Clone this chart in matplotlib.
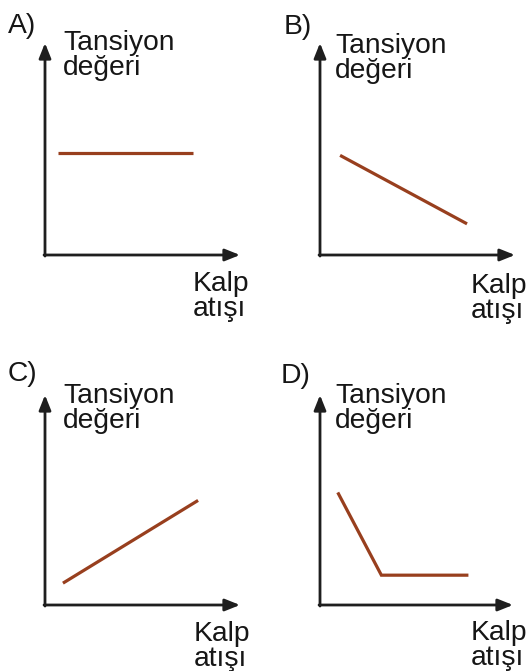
import matplotlib
matplotlib.use("Agg")
import matplotlib.pyplot as plt

plt.rcParams['font.family'] = ['Liberation Sans', 'DejaVu Sans']

W, H = 527, 671

panel_labels = ['A)', 'B)', 'C)', 'D)']
y_label_lines = ['Tansiyon', 'değeri']
x_label_lines = ['Kalp', 'atışı']

# data (axis units 0..10)
a_x = [0.67, 7.6]
a_y = [4.8, 4.8]
b_x = [1.03, 7.54]
b_y = [4.7, 1.47]
c_x = [0.92, 7.85]
c_y = [1.04, 4.98]
d_x = [0.92, 3.18, 7.69]
d_y = [5.36, 1.42, 1.42]

series = [(a_x, a_y), (b_x, b_y), (c_x, c_y), (d_x, d_y)]

# layout in pixels: (axis left x, axis top y, axis right x, axis bottom y)
boxes = [(45, 43, 240, 255), (320, 43, 515, 255), (45, 395, 240, 605), (320, 395, 513, 605)]
label_pos = [(8, 33), (284, 34), (8, 381), (281, 383)]
ylab_pos = [(63, 50), (335, 53), (63, 403), (335, 403)]
xlab_pos = [(193, 291), (471, 293), (194, 641), (471, 640)]

axis_color = '#1e1e1e'
line_color = '#983f1e'
text_color = '#161616'
fs = 20.3
lsp = 25

fig = plt.figure(figsize=(W / 100, H / 100), dpi=100)
fig.patch.set_facecolor('white')


def fx(x):
    return x / W


def fy(y):
    return 1 - y / H


for i, (l, t, r, b) in enumerate(boxes):
    ax = fig.add_axes([fx(l), fy(b), (r - l) / W, (b - t) / H])
    ax.set_xlim(0, 10)
    ax.set_ylim(0, 10)
    ax.axis('off')
    ap = dict(arrowstyle='-|>,head_length=0.5,head_width=0.2', lw=2.0,
              color=axis_color, mutation_scale=18, shrinkA=0, shrinkB=0)
    ax.annotate('', xy=(1, 0), xytext=(-0.005, 0), xycoords='axes fraction',
                textcoords='axes fraction', arrowprops=ap, annotation_clip=False)
    ax.annotate('', xy=(0, 1), xytext=(0, -0.005), xycoords='axes fraction',
                textcoords='axes fraction', arrowprops=ap, annotation_clip=False)
    xs, ys = series[i]
    ax.plot(xs, ys, color=line_color, lw=2.3, solid_capstyle='butt',
            solid_joinstyle='miter', clip_on=False)

    lx, ly = label_pos[i]
    fig.text(fx(lx), fy(ly), panel_labels[i], fontsize=fs, color=text_color,
             ha='left', va='baseline')
    yx, yy = ylab_pos[i]
    for k, s in enumerate(y_label_lines):
        fig.text(fx(yx), fy(yy + k * lsp), s, fontsize=fs, color=text_color,
                 ha='left', va='baseline')
    xx, xy = xlab_pos[i]
    for k, s in enumerate(x_label_lines):
        fig.text(fx(xx), fy(xy + k * lsp), s, fontsize=fs, color=text_color,
                 ha='left', va='baseline')

fig.savefig('out.png', dpi=100, facecolor='white')
